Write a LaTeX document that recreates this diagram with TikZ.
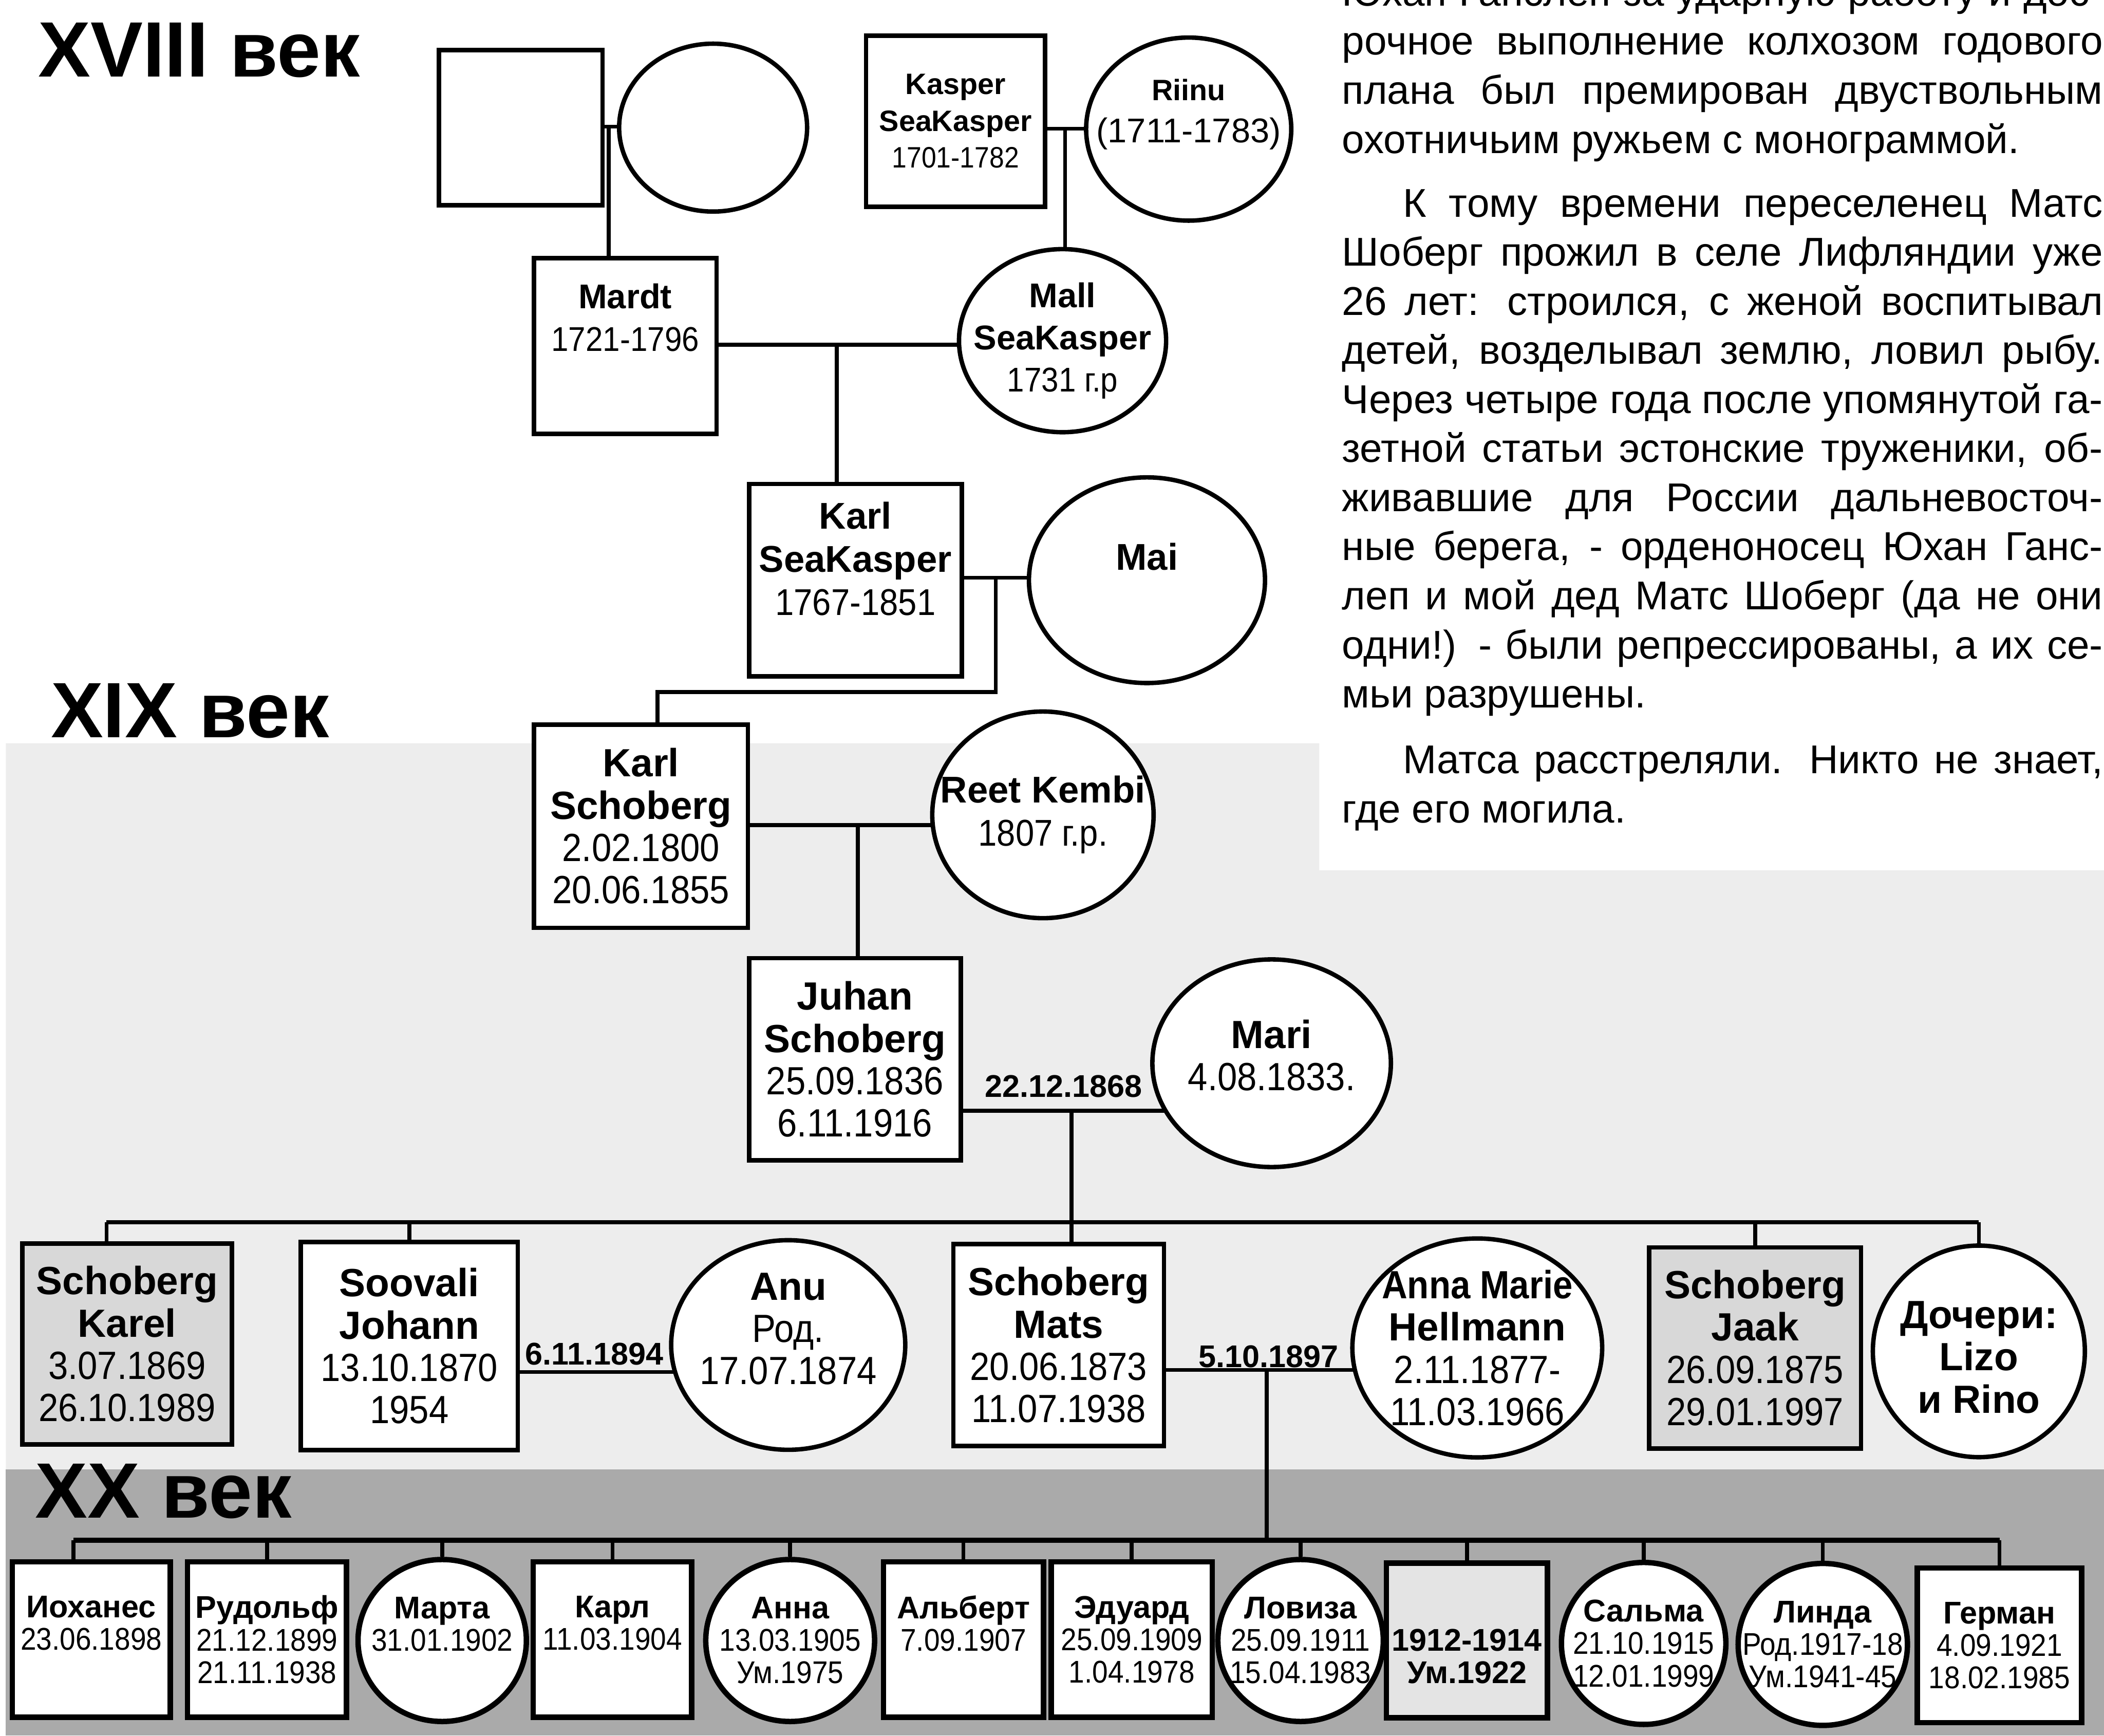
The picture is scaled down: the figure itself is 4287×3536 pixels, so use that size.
\documentclass[tikz,border=0pt]{standalone}
\usepackage{fontspec}
\setmainfont{Liberation Sans}
\newfontfamily\narrowfont{Liberation Sans}[FakeStretch=0.9]
\usepackage{tikz}
\usetikzlibrary{shapes.geometric}
\pgfdeclarelayer{bands}
\pgfdeclarelayer{wires}
\pgfsetlayers{bands,wires,main}
\definecolor{band_light}{RGB}{237,237,237}
\definecolor{band_dark}{RGB}{170,170,170}
\definecolor{box_gray}{RGB}{216,216,216}
\definecolor{box_pale}{RGB}{228,228,228}
\newcommand\fsz[2]{\fontsize{#1pt}{#2pt}\selectfont}
\newcommand\pname[1]{\textbf{#1}}
\newcommand\pdate[1]{{\narrowfont #1}}
\newcommand\jline[1]{\hbox to \hsize{#1}}
\newcommand\lline[1]{\hbox to \hsize{#1\hfil}}

\begin{document}
\begin{tikzpicture}[x=0.1mm,y=-0.1mm]
    \tikzstyle{mal}=[draw, rectangle, fill=white, line width=0.9mm, inner sep=0pt, align=center]
    \tikzstyle{fem}=[draw, ellipse, fill=white, line width=0.9mm, inner sep=0pt]
    \tikzstyle{txt}=[align=center, inner sep=0pt]
    \tikzstyle{kid}=[line width=1.1mm, font=\fsz{18.2}{18.8}]
    \tikzstyle{g60}=[font=\fsz{17.1}{21.3}]
    \tikzstyle{g70}=[font=\fsz{19.9}{24.5}]
    \tikzstyle{g76}=[font=\fsz{21.6}{25}]
    \tikzstyle{g80}=[font=\fsz{22.8}{24.5}]
    \tikzstyle{century}=[inner sep=0pt, anchor=base west, font=\fsz{45.5}{50}\bfseries]
    \tikzstyle{wed}=[inner sep=0pt, anchor=base, font=\fsz{18.2}{20}\bfseries]

    \useasboundingbox (0,0) rectangle (4287,3536);

    \begin{pgfonlayer}{bands}
      \fill[band_light] (12,1514) -- (2688,1514) -- (2688,1773) -- (4287,1773)
        -- (4287,2993) -- (12,2993) -- cycle;
      \fill[band_dark] (12,2993) rectangle (4287,3536);
    \end{pgfonlayer}

    \node[century] (c18) at (77,156)  {XVIII век};
    \node[century] (c19) at (103,1502) {XIX век};
    \node[century] (c20) at (71,3092)  {XX век};

    % XVIII
    \node[mal, minimum width=33.3mm, minimum height=31.6mm] (sq0) at (1061,260) {};
    \node[fem, minimum width=38.3mm, minimum height=34.2mm] (c0) at (1453,260) {};
    \node[mal, g60, minimum width=36.5mm, minimum height=34.8mm] (kasper) at (1947,247)
      {\pname{Kasper}\\\pname{SeaKasper}\\\pdate{1701-1782}};
    \node[fem, minimum width=41.8mm, minimum height=37.3mm] (riinu) at (2422,263) {};
    \node[txt, g70, yshift=3mm] (riinu-t) at (riinu) {\fsz{17.1}{24.5}\pname{Riinu}\\(1711-1783)};
    \node[mal, g70, minimum width=37.2mm, minimum height=35.8mm] (mardt) at (1274,705)
      {\pname{Mardt}\\\pdate{1721-1796}\\[3mm]\phantom{0}};
    \node[fem, minimum width=42.2mm, minimum height=37.3mm] (mall) at (2165,694) {};
    \node[txt, g70] (mall-t) at (mall) {\pname{Mall}\\\pname{SeaKasper}\\\pdate{1731 г.р}};
    \node[mal, g76, minimum width=43.3mm, minimum height=39.2mm] (karlsk) at (1743,1182)
      {\pname{Karl}\\\pname{SeaKasper}\\\pdate{1767-1851}\\\phantom{0}};
    \node[fem, minimum width=48.1mm, minimum height=41.9mm] (mai) at (2337,1182) {};
    \node[txt, g76, yshift=4.8mm] (mai-t) at (mai) {\pname{Mai}};

    % XIX
    \node[mal, g80, minimum width=43.6mm, minimum height=41.4mm] (karls) at (1306,1683)
      {\pname{Karl}\\\pname{Schoberg}\\\pdate{2.02.1800}\\\pdate{20.06.1855}};
    \node[fem, minimum width=45.1mm, minimum height=42.1mm] (reet) at (2125,1660) {};
    \node[txt, g76] (reet-t) at (reet) {\pname{Reet Kembi}\\\pdate{1807 г.р.}};
    \node[mal, g80, minimum width=43.1mm, minimum height=41.2mm] (juhan) at (1742,2158)
      {\pname{Juhan}\\\pname{Schoberg}\\\pdate{25.09.1836}\\\pdate{6.11.1916}};
    \node[fem, minimum width=48.6mm, minimum height=42.3mm] (mari) at (2591,2166) {};
    \node[txt, g80, yshift=1.6mm] (mari-t) at (mari) {\pname{Mari}\\\pdate{4.08.1833.}};
    \node[wed] (w1868) at (2167,2235) {22.12.1868};

    \node[mal, g80, fill=box_gray, minimum width=42.7mm, minimum height=40.9mm] (karel) at (259,2738)
      {\pname{Schoberg}\\\pname{Karel}\\\pdate{3.07.1869}\\\pdate{26.10.1989}};
    \node[mal, g80, minimum width=44.2mm, minimum height=42.4mm] (soovali) at (834,2742)
      {\pname{Soovali}\\\pname{Johann}\\\pdate{13.10.1870}\\\pdate{1954}};
    \node[fem, minimum width=47.7mm, minimum height=42.7mm] (anu) at (1606,2740) {};
    \node[txt, g80, yshift=3.3mm] (anu-t) at (anu) {\pname{Anu}\\\pdate{Род.}\\\pdate{17.07.1874}};
    \node[wed] (w1894) at (1211,2780) {6.11.1894};
    \node[mal, g80, minimum width=42.9mm, minimum height=41.1mm] (mats) at (2157,2740)
      {\pname{Schoberg}\\\pname{Mats}\\\pdate{20.06.1873}\\\pdate{11.07.1938}};
    \node[fem, minimum width=50.9mm, minimum height=44.6mm] (annamarie) at (3010,2746) {};
    \node[txt, g80] (annamarie-t) at (annamarie)
      {{\narrowfont\bfseries Anna Marie}\\\pname{Hellmann}\\\pdate{2.11.1877-}\\\pdate{11.03.1966}};
    \node[wed] (w1897) at (2585,2786) {5.10.1897};
    \node[mal, g80, fill=box_gray, minimum width=43.2mm, minimum height=41.0mm] (jaak) at (3576,2746)
      {\pname{Schoberg}\\\pname{Jaak}\\\pdate{26.09.1875}\\\pdate{29.01.1997}};
    \node[fem, minimum width=43.2mm, minimum height=43.1mm] (docheri) at (4032,2753) {};
    \node[txt, g80, yshift=-1.2mm] (docheri-t) at (docheri) {\pname{Дочери:}\\\pname{Lizo}\\\pname{и Rino}};

    % XX
    \node[mal, kid, minimum width=32.2mm, minimum height=31.7mm] (ioh) at (186,3340)
      {\pname{Иоханес}\\\pdate{23.06.1898}\\\phantom{0}};
    \node[mal, kid, minimum width=32.4mm, minimum height=31.7mm] (rud) at (544,3340)
      {\pname{Рудольф}\\\pdate{21.12.1899}\\\pdate{21.11.1938}};
    \node[fem, kid, minimum width=34.3mm, minimum height=33.0mm] (marta) at (901,3342) {};
    \node[txt, kid] (marta-t) at (marta) {\pname{Марта}\\\pdate{31.01.1902}\\\phantom{0}};
    \node[mal, kid, minimum width=32.3mm, minimum height=31.7mm] (karl2) at (1248,3340)
      {\pname{Карл}\\\pdate{11.03.1904}\\\phantom{0}};
    \node[fem, kid, minimum width=34.4mm, minimum height=33.0mm] (anna) at (1610,3342) {};
    \node[txt, kid] (anna-t) at (anna) {\pname{Анна}\\\pdate{13.03.1905}\\\pdate{Ум.1975}};
    \node[mal, kid, minimum width=32.6mm, minimum height=31.7mm] (albert) at (1963,3340)
      {\pname{Альберт}\\\pdate{7.09.1907}\\\phantom{0}};
    \node[mal, kid, minimum width=32.8mm, minimum height=31.7mm] (eduard) at (2306,3340)
      {\pname{Эдуард}\\\pdate{25.09.1909}\\\pdate{1.04.1978}};
    \node[fem, kid, minimum width=33.7mm, minimum height=33.0mm] (loviza) at (2650,3342) {};
    \node[txt, kid] (loviza-t) at (loviza) {\pname{Ловиза}\\\pdate{25.09.1911}\\\pdate{15.04.1983}};
    \node[mal, kid, fill=box_pale, minimum width=32.8mm, minimum height=31.5mm] (b1912) at (2989,3342)
      {\phantom{\pname{Н}}\\\pname{1912-1914}\\\pname{Ум.1922}};
    \node[fem, kid, minimum width=33.5mm, minimum height=33.0mm] (salma) at (3349,3348) {};
    \node[txt, kid] (salma-t) at (salma) {\pname{Сальма}\\\pdate{21.10.1915}\\\pdate{12.01.1999}};
    \node[fem, kid, minimum width=34.5mm, minimum height=33.0mm] (linda) at (3714,3350) {};
    \node[txt, kid] (linda-t) at (linda) {\pname{Линда}\\\pdate{Род.1917-18}\\\pdate{Ум.1941-45}};
    \node[mal, kid, minimum width=33.5mm, minimum height=31.5mm] (german) at (4074,3352)
      {\pname{Герман}\\\pdate{4.09.1921}\\\pdate{18.02.1985}};

    % story column
    \node[inner sep=0pt, anchor=base west, font=\fsz{23.3}{28.45}] (story) at (2734,12)
      {\vtop{\hsize=155mm \baselineskip=28.45pt \lineskiplimit=-100pt
        \jline{Юхан Ганслеп за ударную работу и дос-}
        \jline{рочное выполнение колхозом годового}
        \jline{плана был премирован двуствольным}
        \lline{охотничьим ружьем с монограммой.}
        \vskip 3mm
        \jline{\kern12.4mm К тому времени переселенец Матс}
        \jline{Шоберг прожил в селе Лифляндии уже}
        \jline{26 лет: строился, с женой воспитывал}
        \jline{детей, возделывал землю, ловил рыбу.}
        \jline{Через четыре года после упомянутой га-}
        \jline{зетной статьи эстонские труженики, об-}
        \jline{живавшие для России дальневосточ-}
        \jline{ные берега, - орденоносец Юхан Ганс-}
        \jline{леп и мой дед Матс Шоберг (да не они}
        \jline{одни!) - были репрессированы, а их се-}
        \lline{мьи разрушены.}
        \vskip 3.4mm
        \jline{\kern12.4mm Матса расстреляли. Никто не знает,}
        \lline{где его могила.}}};

    \coordinate (m0) at (1240,258);
    \coordinate (m1) at (2170,262);
    \coordinate (m2) at (1705,702);
    \coordinate (m3) at (2029,1177);
    \coordinate (k3) at (1340,1410);
    \coordinate (m4) at (1748,1681);
    \coordinate (m5) at (2183,2263);
    \coordinate (sb0) at (217,2490);
    \coordinate (m6) at (1211,2795);
    \coordinate (m7) at (2581,2791);
    \coordinate (cb0) at (150,3138);

    \begin{pgfonlayer}{wires}
    \begin{scope}[line width=0.8mm]
      \draw (sq0 |- m0) -- (c0 |- m0);
      \draw (m0) -- (m0 |- mardt.north);
      \draw (kasper |- m1) -- (riinu |- m1);
      \draw (m1) -- (m1 |- mall.north);
      \draw (mardt |- m2) -- (mall |- m2);
      \draw (m2) -- (m2 |- karlsk.north);
      \draw (karlsk |- m3) -- (mai |- m3);
      \draw (m3) |- (k3) -- (k3 |- karls.north);
      \draw (karls |- m4) -- (reet |- m4);
      \draw (m4) -- (m4 |- juhan.north);
      \draw (juhan |- m5) -- (mari |- m5);
      \draw (m5) -- (m5 |- mats.north);
      % children of Juhan
      \draw (sb0) -- (sb0 -| docheri.north);
      \draw (sb0) -- (sb0 |- karel.north);
      \foreach \k in {soovali,jaak,docheri}
        \draw (\k.north) -- (\k.north |- sb0);
      \draw (soovali |- m6) -- (anu |- m6);
      \draw (mats |- m7) -- (annamarie |- m7);
      \draw (m7) -- (m7 |- cb0);
      % children of Mats
      \draw[line width=1.1mm] (cb0) -- (cb0 -| german.north);
      \draw (cb0) -- (cb0 |- ioh.north);
      \foreach \k in {rud,marta,karl2,anna,albert,eduard,loviza,b1912,salma,linda,german}
        \draw (\k.north) -- (\k.north |- cb0);
    \end{scope}
    \end{pgfonlayer}
\end{tikzpicture}
\end{document}
